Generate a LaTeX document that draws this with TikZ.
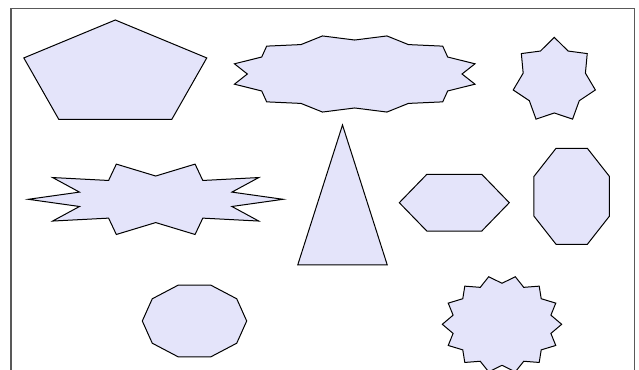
\documentclass[tikz,border=0pt]{standalone}
\usepackage{tikz}
\usetikzlibrary{shapes.geometric}
\definecolor{lavfill}{RGB}{228,228,250}

\begin{document}
\begin{tikzpicture}[
    x=0.5pt, y=0.5pt,
    poly_node/.style={
        regular polygon,
        regular polygon sides=#1,
        draw=black,
        fill=lavfill,
        line width=0.5pt,
        inner sep=0pt,
        outer sep=0pt
    },
    star_node/.style={
        star,
        star points=#1,
        draw=black,
        fill=lavfill,
        line width=0.5pt,
        inner sep=0pt,
        outer sep=0pt
    }
]
    \useasboundingbox (0,0) rectangle (639,370);

    % Frame (bottom edge runs off the page)
    \draw[line width=0.8pt, color=black!65] (11,-10) -- (11,361.3) -- (634.3,361.3) -- (634.3,-10);

    % Top Row
    \node (pentagon) [poly_node=5, minimum size=54.9pt, xscale=1.752] at (115.3,295.1) {};
    \node (burst) [star_node=12, star point ratio=1.16, shape border rotate=15, minimum size=39.4pt, xscale=3.16] at (354.7,296) {};
    \node (seven) [star_node=7, star point ratio=1.32, minimum size=43pt, xscale=0.98] at (554.3,289.6) {};

    % Middle Row
    \node (spikes) [star_node=10, star point ratio=1.59, shape border rotate=18, minimum size=37pt, xscale=3.443] at (155.7,170.7) {};
    \node (triangle) [poly_node=3, minimum size=93.3pt, xscale=0.554] at (342.5,151.7) {};
    \node (hexagon) [poly_node=6, minimum size=32.7pt, xscale=1.682] at (454.3,167.3) {};
    \node (octagon) [poly_node=8, minimum size=52pt, xscale=0.785] at (571.7,173.7) {};

    % Bottom Row
    \node (decagon) [poly_node=10, minimum size=37.8pt, xscale=1.381] at (194.5,49) {};
    \node (seal) [star_node=14, star point ratio=1.19, shape border rotate=12.857, minimum size=48.8pt, xscale=1.223] at (502,45.7) {};

\end{tikzpicture}
\end{document}
